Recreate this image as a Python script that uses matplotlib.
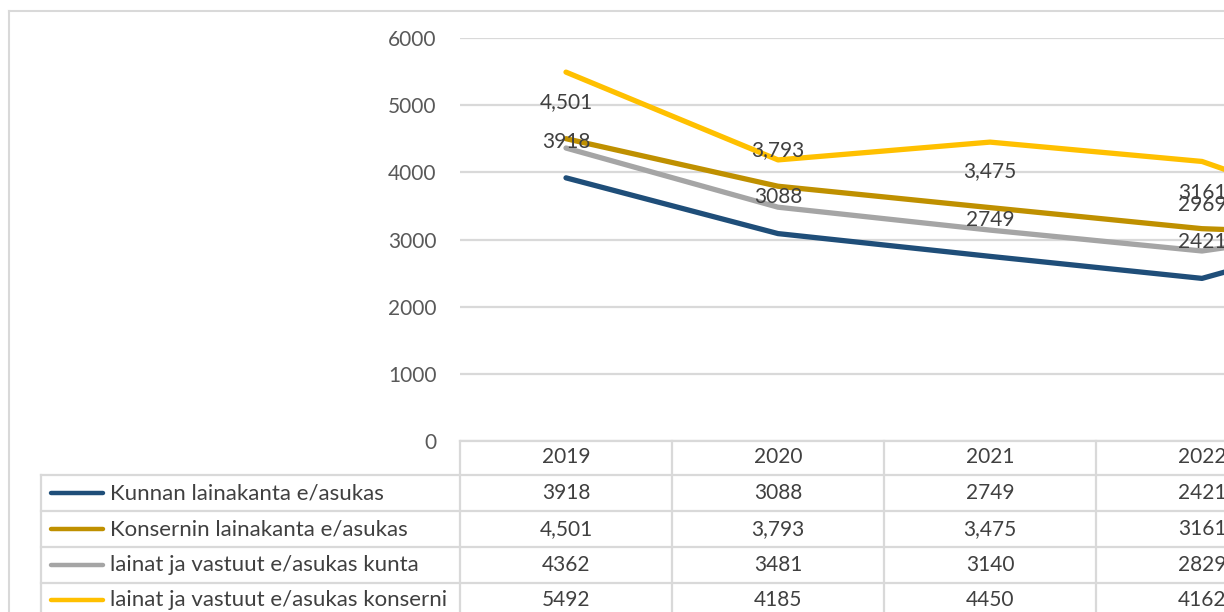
import matplotlib
matplotlib.use("Agg")
import matplotlib.pyplot as plt
from matplotlib.lines import Line2D
from matplotlib.transforms import blended_transform_factory

# data (2023 column lies beyond the visible crop, values estimated from line slopes)
years = ["2019", "2020", "2021", "2022", "2023"]
kunnan = [3918, 3088, 2749, 2421, 3300]
konserni = [4501, 3793, 3475, 3161, 3050]
vastuut_kunta = [4362, 3481, 3140, 2829, 3280]
vastuut_konserni = [5492, 4185, 4450, 4162, 3060]

# texts as shown in the table / labels
kunnan_txt = ["3918", "3088", "2749", "2421"]
konserni_txt = ["4,501", "3,793", "3,475", "3161"]
vastuut_kunta_txt = ["4362", "3481", "3140", "2829"]
vastuut_konserni_txt = ["5492", "4185", "4450", "4162"]

series_names = ["Kunnan lainakanta e/asukas", "Konsernin lainakanta e/asukas",
                "lainat ja vastuut e/asukas kunta", "lainat ja vastuut e/asukas konserni"]
series_vals = [kunnan, konserni, vastuut_kunta, vastuut_konserni]
series_txt = [kunnan_txt, konserni_txt, vastuut_kunta_txt, vastuut_konserni_txt]
colors = ["#1F4E79", "#BF9000", "#A5A5A5", "#FFC000"]

# extra label shown in the chart at 2022
extra_label_year = 3
extra_label_val = 2969

W, H = 1224, 612
FONT = "Lato"
FS = 15
TXT = "#404040"
GRID = "#D9D9D9"

fig = plt.figure(figsize=(W / 100, H / 100), dpi=100)

def fx(x):
    return x / W

def fy(y):
    return 1 - y / H

col_w = 212
ax_left, ax_top, ax_bot = 460, 38, 441
ax = fig.add_axes([fx(ax_left), fy(ax_bot), (col_w * len(years)) / W, (ax_bot - ax_top) / H])
ax.set_xlim(-0.5, len(years) - 0.5)
ax.set_ylim(0, 6000)
ax.set_yticks(range(0, 6001, 1000))
ax.set_yticklabels([str(v) for v in range(0, 6001, 1000)], fontfamily=FONT, fontsize=FS, color="#595959")
ax.tick_params(axis="y", length=0, pad=17)
ax.set_xticks([])
for s in ax.spines.values():
    s.set_visible(False)
ax.grid(axis="y", color=GRID, lw=1.6)
ax.set_axisbelow(True)

x = list(range(len(years)))
for vals, c in zip(series_vals, colors):
    ax.plot(x, vals, color=c, lw=3.8, solid_capstyle="round", solid_joinstyle="round", zorder=3)

# data labels for first two series, shown above the points
for vals, txts in zip(series_vals[:2], series_txt[:2]):
    for i, t in enumerate(txts):
        ax.annotate(t, (i, vals[i]), xytext=(0, 26), textcoords="offset points",
                    ha="center", va="center", fontfamily=FONT, fontsize=FS, color=TXT, zorder=5)
ax.annotate(str(extra_label_val), (extra_label_year, extra_label_val), xytext=(0, 26),
            textcoords="offset points", ha="center", va="center", fontfamily=FONT,
            fontsize=FS, color=TXT, zorder=5)

# outer chart border
fig.add_artist(Line2D([fx(9), fx(W)], [fy(11), fy(11)], color=GRID, lw=1.5))
fig.add_artist(Line2D([fx(9), fx(9)], [fy(11), fy(H)], color=GRID, lw=1.5))

# data table
row_lines = [475, 511, 547, 583]
fig.add_artist(Line2D([fx(ax_left), fx(W)], [fy(ax_bot), fy(ax_bot)], color=GRID, lw=1.6))
for y in row_lines:
    fig.add_artist(Line2D([fx(41), fx(W)], [fy(y), fy(y)], color=GRID, lw=1.6))
for k in range(len(years)):
    xl = ax_left + k * col_w
    fig.add_artist(Line2D([fx(xl), fx(xl)], [fy(ax_bot), fy(H)], color=GRID, lw=1.6))
fig.add_artist(Line2D([fx(41), fx(41)], [fy(475), fy(H)], color=GRID, lw=1.6))

trans = blended_transform_factory(ax.transData, fig.transFigure)
for i, yr in enumerate(years[:4]):
    fig.text(i, fy(457), yr, transform=trans, ha="center", va="center",
             fontfamily=FONT, fontsize=FS, color=TXT)

row_centers = [493, 529, 565, 600]
for yc, name, txts, c in zip(row_centers, series_names, series_txt, colors):
    fig.add_artist(Line2D([fx(51), fx(103)], [fy(yc), fy(yc)], color=c, lw=3.2, solid_capstyle="round"))
    fig.text(fx(110), fy(yc), name, ha="left", va="center", fontfamily=FONT, fontsize=16, color=TXT)
    for i, t in enumerate(txts):
        fig.text(i, fy(yc), t, transform=trans, ha="center", va="center",
                 fontfamily=FONT, fontsize=FS, color=TXT)

fig.savefig("out.png", dpi=100)
